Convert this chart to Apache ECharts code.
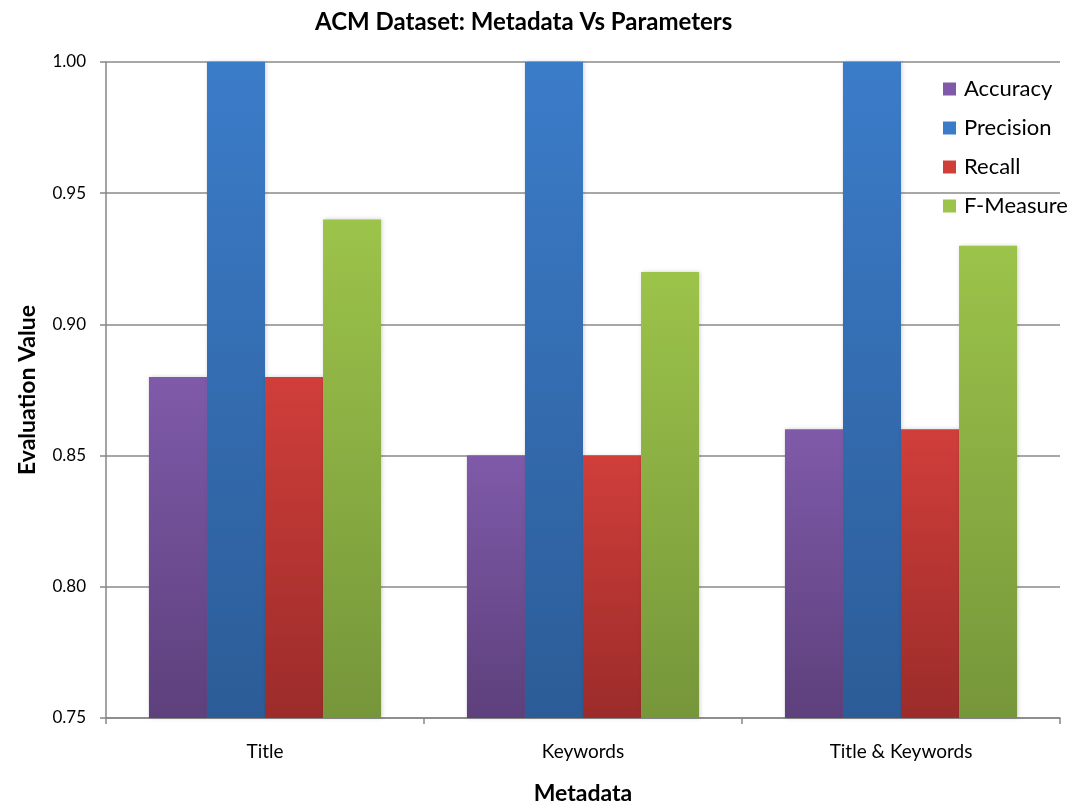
<!DOCTYPE html>
<html>
<head>
<meta charset="utf-8">
<script src="https://cdn.jsdelivr.net/npm/echarts@6/dist/echarts.min.js"></script>
<style>html,body{margin:0;padding:0;background:#fff}#c{width:1076px;height:803px}</style>
</head>
<body>
<div id="c"></div>
<script>
const categories = ['Title', 'Keywords', 'Title & Keywords'];
const accuracy = [0.88, 0.85, 0.86];
const precision = [1.00, 1.00, 1.00];
const recall = [0.88, 0.85, 0.86];
const fMeasure = [0.94, 0.92, 0.93];
const seriesNames = ['Accuracy', 'Precision', 'Recall', 'F-Measure'];
const yTicks = [0.75, 0.80, 0.85, 0.90, 0.95, 1.00];

const FONT = 'Lato, "Open Sans", sans-serif';
function grad(top, bottom) {
  return new echarts.graphic.LinearGradient(0, 0, 0, 1, [
    {offset: 0, color: top}, {offset: 1, color: bottom}
  ]);
}
const colors = [
  ['#7f5aa9', '#5d407c'],
  ['#3b7cc9', '#2c5c97'],
  ['#d03e3a', '#9b2c2a'],
  ['#9cc34a', '#76963a']
];
const dataSets = [accuracy, precision, recall, fMeasure];

const chart = echarts.init(document.getElementById('c'));
chart.setOption({
  animation: false,
  backgroundColor: '#fff',
  title: {
    text: 'ACM Dataset: Metadata Vs Parameters',
    left: 310, top: 5,
    textStyle: {fontFamily: FONT, fontSize: 24, fontWeight: 'bold', color: '#000'}
  },
  legend: {
    orient: 'vertical', left: 938, top: 73,
    itemWidth: 13, itemHeight: 13, itemGap: 17,
    icon: 'rect',
    textStyle: {fontFamily: FONT, fontSize: 22, color: '#000', padding: [0, 0, 0, 3]},
    data: seriesNames.map((n, i) => ({name: n, itemStyle: {color: colors[i][0]}}))
  },
  grid: {left: 106, right: 16, top: 62, bottom: 85, containLabel: false, outerBoundsMode: 'none'},
  xAxis: {
    type: 'category', data: categories,
    name: 'Metadata', nameLocation: 'middle', nameGap: 64,
    nameTextStyle: {fontFamily: FONT, fontSize: 23, fontWeight: 'bold', color: '#000'},
    axisLine: {lineStyle: {color: '#868686', width: 1.5}},
    axisTick: {show: true, alignWithLabel: false, length: 6, lineStyle: {color: '#868686', width: 1.5}},
    axisLabel: {fontFamily: FONT, fontSize: 19, color: '#000', margin: 24}
  },
  yAxis: {
    type: 'value', min: 0.75, max: 1.00, interval: 0.05,
    name: 'Evaluation Value', nameLocation: 'middle', nameGap: 67, nameRotate: 90,
    nameTextStyle: {fontFamily: FONT, fontSize: 23, fontWeight: 'bold', color: '#000'},
    axisLine: {show: true, lineStyle: {color: '#868686', width: 1.5}},
    axisTick: {show: true, length: 6, lineStyle: {color: '#868686', width: 1.5}},
    axisLabel: {fontFamily: FONT, fontSize: 17, color: '#000', margin: 20,
      formatter: v => v.toFixed(2)},
    splitLine: {show: true, lineStyle: {color: '#8a8a8a', width: 1.5}}
  },
  series: seriesNames.map((n, i) => ({
    name: n, type: 'bar',
    data: dataSets[i],
    barGap: '0%', barCategoryGap: '27%',
    itemStyle: {color: grad(colors[i][0], colors[i][1]),
      shadowColor: 'rgba(0,0,0,0.18)', shadowBlur: 4, shadowOffsetX: 1}
  }))
});
</script>
</body>
</html>
